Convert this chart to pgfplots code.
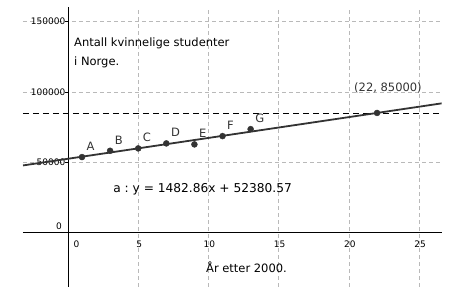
\documentclass[border=0pt]{standalone}
\usepackage{pgfplots}
\pgfplotsset{compat=1.18}
\usepackage{fontspec}
\setmainfont{DejaVu Sans}
\definecolor{pt}{HTML}{333333}
\begin{document}
\begin{tikzpicture}
\path[use as bounding box] (-23pt,-14.3pt) rectangle (452pt,286.7pt);
\begin{axis}[
  at={(0,0)}, anchor=south west,
  scale only axis, width=418.7pt, height=279.4pt,
  xmin=-3.2, xmax=26.6, ymin=-38680, ymax=160190,
  axis lines=middle,
  axis line style={black, line width=0.9pt, -},
  hide obscured x ticks=false, hide obscured y ticks=false,
  xtick={5,10,15,20,25},
  xticklabels={5,10,15,20,25},
  ytick={50000,100000,150000},
  yticklabels={50000,100000,150000},
  extra x ticks={0}, extra x tick labels={0},
  extra y ticks={0}, extra y tick labels={0},
  extra x tick style={grid=none, xticklabel style={xshift=7.5pt}},
  extra y tick style={grid=none, major tick length=0pt, yticklabel style={xshift=-6.5pt, yshift=6.3pt}},
  xtick style={draw=none},
  ytick style={black, line width=0.6pt},
  major tick length=3pt,
  tick align=outside,
  xticklabel style={anchor=north, inner sep=0pt, yshift=-5.5pt, xshift=1pt, font=\fontsize{9}{10}\selectfont},
  yticklabel style={anchor=east, inner sep=0pt, xshift=0.5pt, font=\fontsize{9}{10}\selectfont},
  grid=major,
  major grid style={gray!55, dash pattern=on 4pt off 3pt, line width=0.6pt},
  clip=true,
]
\addplot[black, dash pattern=on 6pt off 4pt, line width=0.8pt] coordinates {(-3.2,85000) (26.6,85000)};
\addplot[pt, line width=1.8pt] coordinates {(-3.2,47635) (26.6,91825)};
\addplot[only marks, mark=*, mark size=3pt, mark options={fill=pt, draw=pt},
  nodes near coords, point meta=explicit symbolic,
  nodes near coords style={anchor=base west, inner sep=0pt, xshift=4.5pt, yshift=6.5pt,
    font=\fontsize{11.5}{12}\selectfont, text=pt}]
  table[meta=label] {
x y label
1 53580 A
3 58060 B
5 59760 C
7 63320 D
9 62610 E
11 68510 F
13 73480 G
};
\addplot[only marks, mark=*, mark size=3pt, mark options={fill=pt, draw=pt}] coordinates {(22,85000)};
\node[anchor=base west, inner sep=0pt, font=\fontsize{11.5}{12}\selectfont] at (axis cs:0.43,131960) {Antall kvinnelige studenter};
\node[anchor=base west, inner sep=0pt, font=\fontsize{11.5}{12}\selectfont] at (axis cs:0.43,118950) {i Norge.};
\node[anchor=base west, inner sep=0pt, font=\fontsize{12.2}{13}\selectfont] at (axis cs:3.22,28160) {a :\ y = 1482.86x + 52380.57};
\node[anchor=base west, inner sep=0pt, font=\fontsize{11.5}{12}\selectfont] at (axis cs:9.82,-28440) {År etter 2000.};
\node[anchor=base west, inner sep=0pt, font=\fontsize{11.5}{12}\selectfont, text=pt] at (axis cs:20.36,99970) {(22, 85000)};
\end{axis}
\end{tikzpicture}
\end{document}
